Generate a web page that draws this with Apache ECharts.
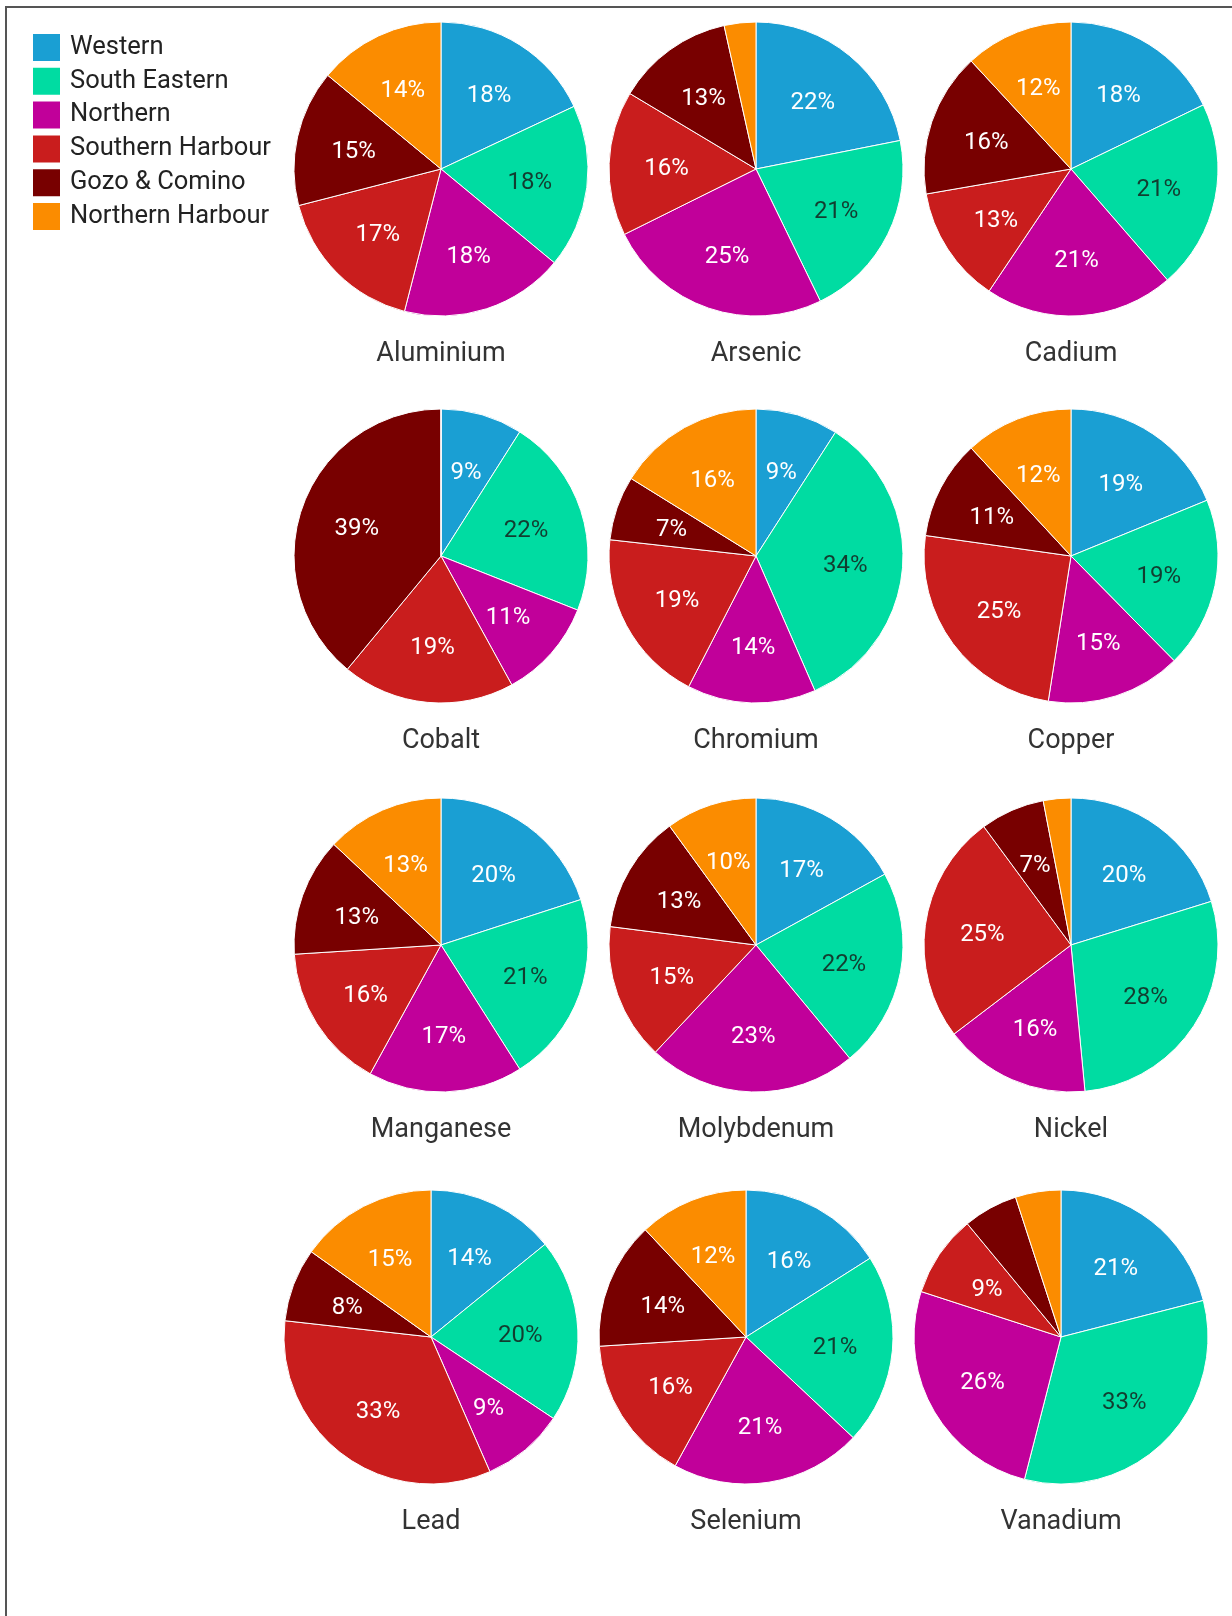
<!DOCTYPE html>
<html>
<head>
<meta charset="utf-8">
<title>Heavy metals by region</title>
<script src="https://cdn.jsdelivr.net/npm/echarts@6/dist/echarts.min.js"></script>
<style>
  html, body { margin: 0; padding: 0; background: #ffffff; }
  #chart { width: 1232px; height: 1616px; }
</style>
</head>
<body>
<div id="chart"></div>
<script>
// Regions (slice order, clockwise from 12 o'clock)
const regions = ['Western', 'South Eastern', 'Northern', 'Southern Harbour', 'Gozo & Comino', 'Northern Harbour'];
const regionColors = ['#1a9fd3', '#00dca2', '#c1009a', '#c91d1d', '#780000', '#fb8c00'];
const labelColors = ['#ffffff', '#123d30', '#ffffff', '#ffffff', '#ffffff', '#ffffff'];

// Metals, in grid order (row by row)
const metals = ['Aluminium', 'Arsenic', 'Cadium', 'Cobalt', 'Chromium', 'Copper',
                'Manganese', 'Molybdenum', 'Nickel', 'Lead', 'Selenium', 'Vanadium'];

// Share of each metal by region (%)
const aluminium  = [18, 18, 18, 17, 15, 14];
const arsenic    = [22, 21, 25, 16, 13, 3.5];
const cadium     = [18, 21, 21, 13, 16, 12];
const cobalt     = [9, 22, 11, 19, 39, 0];
const chromium   = [9, 34, 14, 19, 7, 16];
const copper     = [19, 19, 15, 25, 11, 12];
const manganese  = [20, 21, 17, 16, 13, 13];
const molybdenum = [17, 22, 23, 15, 13, 10];
const nickel     = [20, 28, 16, 25, 7, 3];
const lead       = [14, 20, 9, 33, 8, 15];
const selenium   = [16, 21, 21, 16, 14, 12];
const vanadium   = [21, 33, 26, 9, 6, 5];

const metalValues = [aluminium, arsenic, cadium, cobalt, chromium, copper,
                     manganese, molybdenum, nickel, lead, selenium, vanadium];

// Grid layout of the small multiples
const R = 147;
const colX = [441, 756, 1071];
const lastRowX = [431, 746, 1061];
const rowY = [169, 556, 945, 1337];

const FONT = 'Roboto, "Noto Sans", sans-serif';

const series = [];
const graphics = [];

metals.forEach(function (metal, i) {
  const row = Math.floor(i / 3), col = i % 3;
  const cx = row === 3 ? lastRowX[col] : colX[col];
  const cy = rowY[row];
  const values = metalValues[i];

  // Filled slices
  series.push({
    type: 'pie',
    name: metal,
    center: [cx, cy],
    radius: [0, R],
    startAngle: 90,
    clockwise: true,
    animation: false,
    label: { show: false },
    labelLine: { show: false },
    emphasis: { disabled: true },
    itemStyle: { borderColor: '#ffffff', borderWidth: 1 },
    data: values.map(function (v, k) {
      return { name: regions[k], value: v, itemStyle: { color: regionColors[k] } };
    })
  });

  // Percentage labels, set further out than the slice midpoint
  series.push({
    type: 'pie',
    name: metal + ' labels',
    center: [cx, cy],
    radius: [26, R],
    startAngle: 90,
    clockwise: true,
    animation: false,
    silent: true,
    labelLine: { show: false },
    itemStyle: { color: 'rgba(0,0,0,0)', borderWidth: 0 },
    label: {
      show: true,
      position: 'inside',
      fontFamily: FONT,
      fontSize: 24,
      offset: [0, 3],
      formatter: function (p) {
        return p.percent >= 6.5 ? Math.round(p.percent) + '%' : '';
      }
    },
    data: values.map(function (v, k) {
      return { name: regions[k], value: v, label: { color: labelColors[k] } };
    })
  });

  // Metal name under each pie
  graphics.push({
    type: 'text',
    x: cx,
    y: cy + 185,
    silent: true,
    style: {
      text: metal,
      font: '27px ' + FONT,
      fill: '#333333',
      align: 'center',
      verticalAlign: 'middle',
      textAlign: 'center',
      textVerticalAlign: 'middle'
    }
  });
});

// Frame line along the top and left edges
graphics.push({
  type: 'polyline',
  silent: true,
  shape: { points: [[6, 1616], [6, 7], [1232, 7]] },
  style: { stroke: '#555555', lineWidth: 2, fill: null }
});

const chart = echarts.init(document.getElementById('chart'), null, { renderer: 'canvas' });
chart.setOption({
  backgroundColor: '#ffffff',
  animation: false,
  legend: {
    orient: 'vertical',
    left: 31,
    top: 32,
    padding: 0,
    icon: 'rect',
    itemWidth: 29,
    itemHeight: 29,
    itemGap: 2.8,
    selectedMode: false,
    textStyle: {
      fontFamily: FONT,
      fontSize: 25.5,
      lineHeight: 29,
      color: '#222222',
      padding: [0, 0, 0, 4]
    },
    data: regions.map(function (n, k) {
      return { name: n, itemStyle: { color: regionColors[k] } };
    })
  },
  graphic: graphics,
  series: series
});
</script>
</body>
</html>
